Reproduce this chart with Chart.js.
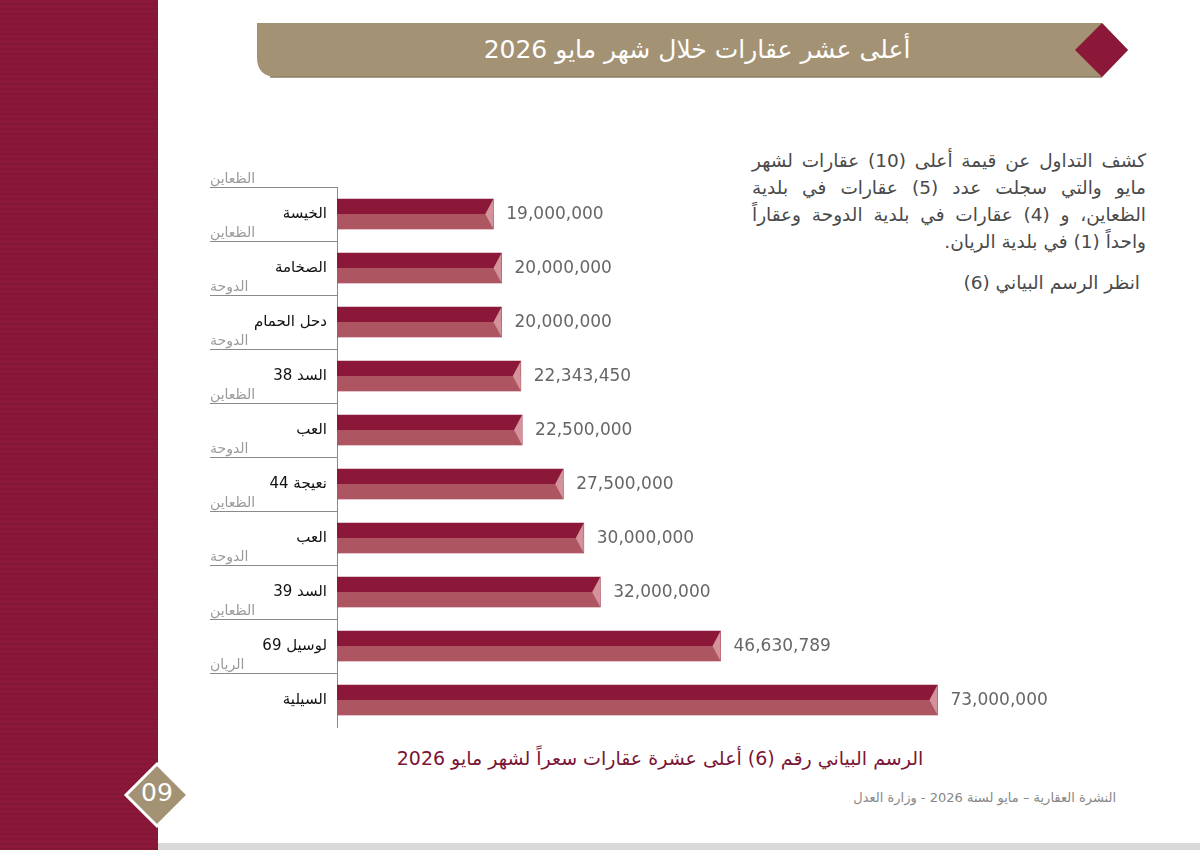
<!DOCTYPE html>
<html>
<head>
<meta charset="utf-8">
<script src="https://cdn.jsdelivr.net/npm/chart.js@4.4.1/dist/chart.umd.min.js"></script>
<style>
  html, body { margin: 0; padding: 0; background: #fff; }
  body { width: 1200px; height: 850px; position: relative; overflow: hidden; font-family: "DejaVu Sans", "Noto Sans", sans-serif; }
  .band { position: absolute; left: 0; top: 0; width: 158px; height: 850px;
    background: repeating-linear-gradient(180deg, #8b1838 0px, #8b1838 3px, #841636 3px, #841636 5px); }
  .bottomline { position: absolute; left: 158px; top: 843px; width: 1042px; height: 7px; background: #d9d9d9; }
  svg.deco { position: absolute; left: 0; top: 0; }
  .title { position: absolute; left: 277px; width: 840px; top: 29px; height: 42px; line-height: 42px;
    text-align: center; color: #fff; font-size: 25px; direction: rtl; }
  .para { position: absolute; left: 752px; width: 394px; top: 147px; direction: rtl; text-align: justify;
    text-align-last: right; font-size: 18.5px; line-height: 27px; color: #4a4a4a; }
  .para2 { position: absolute; right: 60px; top: 272px; direction: rtl; font-size: 18.5px; color: #4a4a4a; }
  .caption { position: absolute; left: 300px; width: 720px; top: 747px; text-align: center; direction: rtl;
    color: #7b1535; font-size: 19px; }
  .footer { position: absolute; right: 84px; top: 790px; direction: rtl; color: #888; font-size: 13px; }
  .pagenum { position: absolute; left: 127px; width: 60px; top: 778px; text-align: center; color: #fff; font-size: 25px; }
  #wrap { position: absolute; left: 210px; top: 160px; width: 900px; height: 580px; }
</style>
</head>
<body>
<div class="band"></div>
<div class="bottomline"></div>
<svg class="deco" width="1200" height="850">
  <path d="M257,23 L1102,23 L1128,50 L1102,77 L277,77 Q257,77 257,57 Z" fill="#a39274"/>
  <line x1="270" y1="77" x2="1102" y2="77" stroke="#8d7d60" stroke-width="1.5"/>
  <path d="M1102,23 L1128,50 L1102,77 L1075,50 Z" fill="#8b1838"/>
  <path d="M157,764 L188,795 L157,826 L126,795 Z" fill="#a39274" stroke="#fff" stroke-width="3"/>
</svg>
<div class="title">أعلى عشر عقارات خلال شهر مايو 2026</div>
<div class="para">كشف التداول عن قيمة أعلى (10) عقارات لشهر مايو والتي سجلت عدد (5) عقارات في بلدية الظعاين، و (4) عقارات في بلدية الدوحة وعقاراً واحداً (1) في بلدية الريان.</div>
<div class="para2">انظر الرسم البياني (6)</div>
<div class="caption">الرسم البياني رقم (6) أعلى عشرة عقارات سعراً لشهر مايو 2026</div>
<div class="footer">النشرة العقارية – مايو لسنة 2026 - وزارة العدل</div>
<div class="pagenum">09</div>
<div id="wrap"><canvas id="chart"></canvas></div>
<script>
const properties = ['الخيسة', 'الصخامة', 'دحل الحمام', 'السد 38', 'العب', 'نعيجة 44', 'العب', 'السد 39', 'لوسيل 69', 'السيلية'];
const municipalities = ['الظعاين', 'الظعاين', 'الدوحة', 'الدوحة', 'الظعاين', 'الدوحة', 'الظعاين', 'الدوحة', 'الظعاين', 'الريان'];
const prices = [19000000, 20000000, 20000000, 22343450, 22500000, 27500000, 30000000, 32000000, 46630789, 73000000];

const darkRed = '#8b1838';
const lightRed = '#ad5662';
const tipPink = '#d4939b';

// two-tone bars with a notched end, plus value and category labels
const barDecor = {
  id: 'barDecor',
  afterDatasetsDraw(chart) {
    const ctx = chart.ctx;
    const meta = chart.getDatasetMeta(0);
    const yScale = chart.scales.y;
    ctx.save();
    meta.data.forEach((bar, i) => {
      const top = bar.y - bar.height / 2;
      const bottom = bar.y + bar.height / 2;
      const left = bar.base;
      const right = bar.x;
      ctx.fillStyle = lightRed;
      ctx.fillRect(left, bar.y, right - left, bottom - bar.y);
      ctx.fillStyle = tipPink;
      ctx.beginPath();
      ctx.moveTo(right, top);
      ctx.lineTo(right - 8, bar.y);
      ctx.lineTo(right, bottom);
      ctx.closePath();
      ctx.fill();

      ctx.direction = 'ltr';
      ctx.textAlign = 'left';
      ctx.textBaseline = 'middle';
      ctx.fillStyle = '#666';
      ctx.font = '17px "DejaVu Sans", sans-serif';
      ctx.fillText(prices[i].toLocaleString('en-US'), right + 13, bar.y + 1);
    });

    const axisX = yScale.right;
    properties.forEach((name, i) => {
      const cy = yScale.getPixelForValue(i);
      ctx.direction = 'rtl';
      ctx.textAlign = 'right';
      ctx.textBaseline = 'middle';
      ctx.fillStyle = '#111';
      ctx.font = '15px "DejaVu Sans", sans-serif';
      ctx.fillText(name, axisX - 10, cy);

      const rowTop = cy - 27;
      ctx.textBaseline = 'alphabetic';
      ctx.fillStyle = '#9a9a9a';
      ctx.font = '14px "DejaVu Sans", sans-serif';
      ctx.textAlign = 'left';
      ctx.fillText(municipalities[i], yScale.left, rowTop - 4);
    });
    ctx.restore();
  }
};

new Chart(document.getElementById('chart'), {
  type: 'bar',
  data: {
    labels: properties,
    datasets: [{
      data: prices,
      backgroundColor: darkRed,
      borderWidth: 0,
      barThickness: 30
    }]
  },
  options: {
    indexAxis: 'y',
    responsive: true,
    maintainAspectRatio: false,
    animation: false,
    layout: { padding: { top: 27, bottom: 13, right: 115, left: 0 } },
    plugins: { legend: { display: false }, tooltip: { enabled: false } },
    scales: {
      x: { display: false, min: 0, max: 80000000 },
      y: {
        offset: true,
        ticks: { display: false },
        border: { display: true, color: '#8a8a8a', width: 1 },
        grid: {
          offset: true,
          drawOnChartArea: false,
          drawTicks: true,
          tickLength: 127,
          // the line under the last row is left out
          color: ctx => ctx.type === 'tick' ? '#8a8a8a' : 'rgba(0,0,0,0)',
          lineWidth: 1
        },
        afterFit(scale) { scale.width = 127; }
      }
    }
  },
  plugins: [barDecor]
});
</script>
</body>
</html>
